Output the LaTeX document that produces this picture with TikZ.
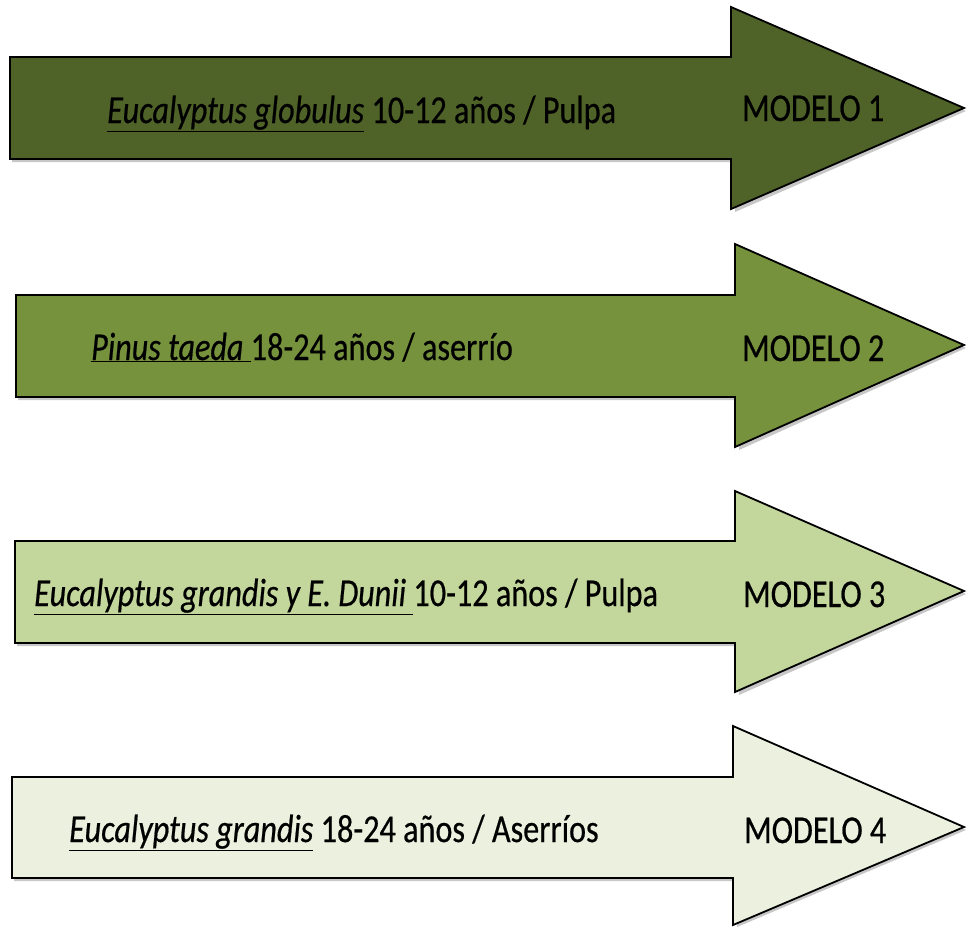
\documentclass[tikz,border=0pt]{standalone}
\usepackage{fontspec}
\setmainfont{Carlito}[FakeStretch=0.815, FakeBold=0.5]
\usetikzlibrary{positioning}

\definecolor{oliveA}{HTML}{4F6228}
\definecolor{oliveB}{HTML}{76923C}
\definecolor{oliveC}{HTML}{C3D69B}
\definecolor{oliveD}{HTML}{EBF1DE}

\begin{document}
\begin{tikzpicture}[x=1pt,y=-1pt,
    arrowbody/.style={draw=black, line width=1.8pt, line join=miter},
    arrowshadow/.style={fill=black!22, draw=none},
    arrowtext/.style={anchor=base west, inner sep=0pt, font=\fontsize{39.5}{44}\selectfont}]
  \useasboundingbox (0,0) rectangle (968,927);

  % shadows
  \fill[arrowshadow] (12,60) -- (735,60) -- (735,10) -- (966,111) -- (735,212) -- (735,162) -- (12,162) -- cycle;
  \fill[arrowshadow] (18,298) -- (739,298) -- (739,247) -- (966,348) -- (739,450) -- (739,400) -- (18,400) -- cycle;
  \fill[arrowshadow] (17,544) -- (739,544) -- (739,494) -- (966,594) -- (739,695) -- (739,646) -- (17,646) -- cycle;
  \fill[arrowshadow] (14,780) -- (737,780) -- (737,729) -- (966,830) -- (737,927) -- (737,881) -- (14,881) -- cycle;

  % arrows
  \filldraw[arrowbody, fill=oliveA] (10,57) -- (731,57) -- (731,7) -- (964,108) -- (731,209) -- (731,159) -- (10,159) -- cycle;
  \filldraw[arrowbody, fill=oliveB] (16,295) -- (735,295) -- (735,244) -- (964,345) -- (735,447) -- (735,397) -- (16,397) -- cycle;
  \filldraw[arrowbody, fill=oliveC] (15,541) -- (735,541) -- (735,491) -- (964,591) -- (735,692) -- (735,643) -- (15,643) -- cycle;
  \filldraw[arrowbody, fill=oliveD] (12,777) -- (733,777) -- (733,726) -- (964,827) -- (733,925) -- (733,878) -- (12,878) -- cycle;

  % texts
  \node[arrowtext] (esp1) at (107,123) {\underline{\textit{Eucalyptus globulus}} 10-12 años / Pulpa};
  \node[arrowtext] (esp2) at (91,360) {\underline{\textit{Pinus taeda}\ }18-24 años / aserrío};
  \node[arrowtext] (esp3) at (34,606) {\underline{\textit{Eucalyptus grandis y E. Dunii}\ }10-12 años / Pulpa};
  \node[arrowtext] (esp4) at (69,842) {\underline{\textit{Eucalyptus grandis}} 18-24 años / Aserríos};

  \node[arrowtext] (mod1) at (742,121) {MODELO 1};
  \node[arrowtext] (mod2) at (742,361) {MODELO 2};
  \node[arrowtext] (mod3) at (743,607) {MODELO 3};
  \node[arrowtext] (mod4) at (744,843) {MODELO 4};
\end{tikzpicture}
\end{document}
